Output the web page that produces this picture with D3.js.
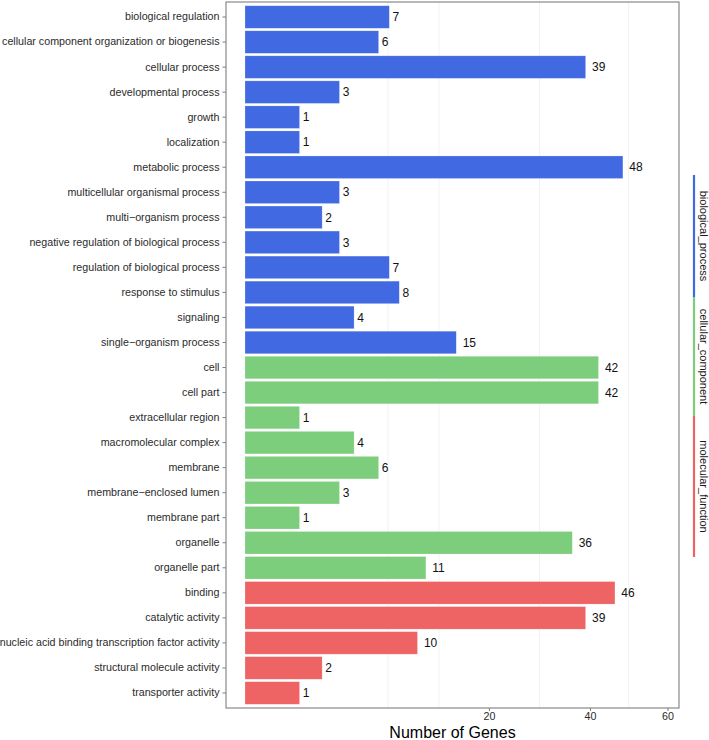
<!DOCTYPE html>
<html>
<head>
<meta charset="utf-8">
<script src="https://cdn.jsdelivr.net/npm/d3@7"></script>
<style>
  html, body { margin: 0; padding: 0; background: #fff; }
  svg { display: block; font-family: "Liberation Sans", Arial, Helvetica, sans-serif; }
</style>
</head>
<body>
<div id="chart"></div>
<script>
// ---- data ----
const categories = [
  "biological regulation",
  "cellular component organization or biogenesis",
  "cellular process",
  "developmental process",
  "growth",
  "localization",
  "metabolic process",
  "multicellular organismal process",
  "multi\u2212organism process",
  "negative regulation of biological process",
  "regulation of biological process",
  "response to stimulus",
  "signaling",
  "single\u2212organism process",
  "cell",
  "cell part",
  "extracellular region",
  "macromolecular complex",
  "membrane",
  "membrane\u2212enclosed lumen",
  "membrane part",
  "organelle",
  "organelle part",
  "binding",
  "catalytic activity",
  "nucleic acid binding transcription factor activity",
  "structural molecule activity",
  "transporter activity"
];
const geneCounts = [7, 6, 39, 3, 1, 1, 48, 3, 2, 3, 7, 8, 4, 15,
                    42, 42, 1, 4, 6, 3, 1, 36, 11,
                    46, 39, 10, 2, 1];
const ontology = [
  "biological_process","biological_process","biological_process","biological_process",
  "biological_process","biological_process","biological_process","biological_process",
  "biological_process","biological_process","biological_process","biological_process",
  "biological_process","biological_process",
  "cellular_component","cellular_component","cellular_component","cellular_component",
  "cellular_component","cellular_component","cellular_component","cellular_component",
  "cellular_component",
  "molecular_function","molecular_function","molecular_function","molecular_function",
  "molecular_function"
];
const groups = ["biological_process", "cellular_component", "molecular_function"];
const groupColors = ["#4169E1", "#7CCD7C", "#EE6363"];
const xTicks = [20, 40, 60];
const xMinorGrid = [6.87, 12.65, 29.14, 49.49];
const xTitle = "Number of Genes";

// ---- layout ----
const W = 709, H = 740;
const panel = { left: 226, right: 679, top: 2, bottom: 708 };

const svg = d3.select("#chart").append("svg")
  .attr("width", W).attr("height", H);

const x = d3.scaleSqrt().domain([0, 60]).range([245, 667.5]);
const y = d3.scaleBand().domain(categories)
  .range([panel.top, panel.bottom])
  .paddingInner(0.1).paddingOuter(0.15);
const color = d3.scaleOrdinal().domain(groups).range(groupColors);

const data = categories.map((c, i) => ({ cat: c, value: geneCounts[i], group: ontology[i] }));

// minor grid
svg.append("g").selectAll("line").data(xMinorGrid).join("line")
  .attr("x1", d => x(d)).attr("x2", d => x(d))
  .attr("y1", panel.top).attr("y2", panel.bottom)
  .attr("stroke", "#F2F2F2").attr("stroke-width", 1);

// bars
svg.append("g").selectAll("rect").data(data).join("rect")
  .attr("x", x(0))
  .attr("y", d => y(d.cat))
  .attr("width", d => x(d.value) - x(0))
  .attr("height", y.bandwidth())
  .attr("fill", d => color(d.group))
  .attr("stroke", "#fff").attr("stroke-opacity", 0.35).attr("stroke-width", 0.6);

// value labels
svg.append("g").selectAll("text").data(data).join("text")
  .attr("x", d => x(d.value) + (String(d.value).length * 6.4) * 0.5)
  .attr("y", d => y(d.cat) + y.bandwidth() / 2)
  .attr("dy", "0.35em")
  .attr("font-size", 12)
  .attr("fill", "#111")
  .text(d => d.value);

// panel border
svg.append("rect")
  .attr("x", panel.left).attr("y", panel.top)
  .attr("width", panel.right - panel.left).attr("height", panel.bottom - panel.top)
  .attr("fill", "none").attr("stroke", "#7F7F7F").attr("stroke-width", 1.1);

// y axis
const yAxis = d3.axisLeft(y).tickSize(3.5).tickPadding(3);
const gy = svg.append("g").attr("transform", `translate(${panel.left},0)`).call(yAxis);
gy.select(".domain").remove();
gy.selectAll(".tick line").attr("stroke", "#7F7F7F");
gy.selectAll(".tick text").attr("font-size", 10.7).attr("fill", "#2b2b2b")
  .attr("font-family", "'Liberation Sans', Arial, sans-serif");

// x axis
const xAxis = d3.axisBottom(x).tickValues(xTicks).tickSize(3).tickPadding(1.5);
const gx = svg.append("g").attr("transform", `translate(0,${panel.bottom})`).call(xAxis);
gx.select(".domain").remove();
gx.selectAll(".tick line").attr("stroke", "#7F7F7F");
gx.selectAll(".tick text").attr("font-size", 10.7).attr("fill", "#2b2b2b")
  .attr("font-family", "'Liberation Sans', Arial, sans-serif");

svg.append("text")
  .attr("x", (panel.left + panel.right) / 2)
  .attr("y", 738)
  .attr("text-anchor", "middle")
  .attr("font-size", 16)
  .attr("fill", "#000")
  .text(xTitle);

// right-side group key
const keyBounds = [175, 297, 416, 557];
const keyX = 694;
const key = svg.append("g");
groups.forEach((g, i) => {
  const y0 = keyBounds[i], y1 = keyBounds[i + 1];
  key.append("line")
    .attr("x1", keyX).attr("x2", keyX)
    .attr("y1", y0).attr("y2", y1)
    .attr("stroke", groupColors[i]).attr("stroke-width", 2.2);
  key.append("text")
    .attr("transform", `translate(${keyX + 4},${(y0 + y1) / 2}) rotate(90)`)
    .attr("text-anchor", "middle")
    .attr("dy", "-0.2em")
    .attr("font-size", 11)
    .attr("fill", "#1a1a1a")
    .text(g);
});
</script>
</body>
</html>
